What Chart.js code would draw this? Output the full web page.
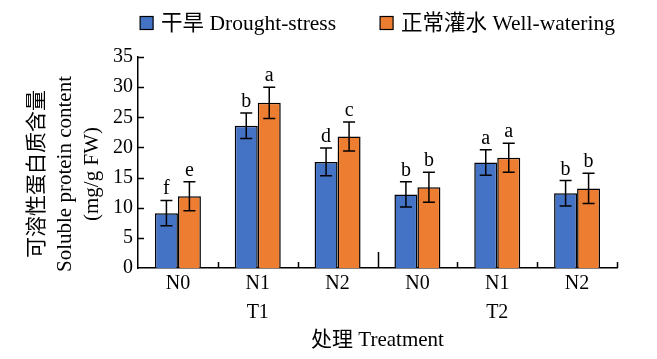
<!DOCTYPE html>
<html><head><meta charset="utf-8">
<script src="https://cdn.jsdelivr.net/npm/chart.js@4/dist/chart.umd.min.js"></script>
<style>html,body{margin:0;padding:0;background:#fff}#wrap{width:657px;height:359px}</style>
</head><body><div id="wrap"><canvas id="c" width="657" height="359"></canvas></div>
<script>
// ---- data ----
const categories = [['N0',''],['N1','T1'],['N2',''],['N0',''],['N1','T2'],['N2','']];
const seriesNames = ['干旱 Drought-stress','正常灌水 Well-watering'];
const droughtValues = [9.1, 23.6, 17.6, 12.2, 17.5, 12.4];
const droughtErrors = [2.1, 2.1, 2.3, 2.1, 2.1, 2.1];
const droughtLetters = ['f','b','d','b','a','b'];
const wellValues = [11.9, 27.4, 21.8, 13.4, 18.3, 13.2];
const wellErrors = [2.4, 2.6, 2.4, 2.5, 2.4, 2.5];
const wellLetters = ['e','a','c','b','a','b'];
const yTickValues = [0, 5, 10, 15, 20, 25, 30, 35];
const yTitleLines = ['可溶性蛋白质含量','Soluble protein content','(mg/g FW)'];
const xTitle = '处理 Treatment';

const FONT = "'Liberation Serif','Times New Roman','Noto Sans CJK SC',serif";
const errorSets = [droughtErrors, wellErrors];
const letterSets = [droughtLetters, wellLetters];

const decor = {
  id: 'decor',
  afterDatasetsDraw(chart) {
    const ctx = chart.ctx, ys = chart.scales.y;
    chart.data.datasets.forEach((ds, di) => {
      const meta = chart.getDatasetMeta(di);
      meta.data.forEach((bar, i) => {
        const v = ds.data[i], e = errorSets[di][i];
        const yt = ys.getPixelForValue(v + e), yb = ys.getPixelForValue(v - e);
        ctx.save();
        ctx.strokeStyle = '#000'; ctx.lineWidth = 1.5;
        ctx.beginPath();
        ctx.moveTo(bar.x, yt); ctx.lineTo(bar.x, yb);
        ctx.moveTo(bar.x - 6, yt); ctx.lineTo(bar.x + 6, yt);
        ctx.moveTo(bar.x - 6, yb); ctx.lineTo(bar.x + 6, yb);
        ctx.stroke();
        ctx.fillStyle = '#000';
        ctx.font = '20px ' + FONT;
        ctx.textAlign = 'center'; ctx.textBaseline = 'alphabetic';
        ctx.fillText(letterSets[di][i], bar.x, yt - 6);
        ctx.restore();
      });
    });
  },
  afterDraw(chart) {
    const ctx = chart.ctx, xs = chart.scales.x, ys = chart.scales.y, ca = chart.chartArea;
    ctx.save();
    ctx.strokeStyle = '#000'; ctx.lineWidth = 1.5;
    ctx.beginPath();
    // y ticks (inward)
    yTickValues.forEach(v => {
      if (v === 0) return;
      const py = Math.round(ys.getPixelForValue(v)) + 0.5;
      ctx.moveTo(ca.left, py); ctx.lineTo(ca.left + 6, py);
    });
    // x boundary ticks (inward)
    const n = categories.length;
    const catW = xs.getPixelForTick(1) - xs.getPixelForTick(0);
    for (let i = 0; i < n; i++) {
      const px = Math.round(xs.getPixelForTick(i) + catW / 2) + 0.5;
      const h = (i === 2) ? 16 : 6;
      ctx.moveTo(px, ca.bottom); ctx.lineTo(px, ca.bottom - h);
    }
    ctx.stroke();

    // legend
    ctx.font = '21.5px ' + FONT;
    ctx.textBaseline = 'middle'; ctx.textAlign = 'left';
    const box = 13, gapText = 8, gapItem = 44;
    const widths = seriesNames.map(t => box + gapText + ctx.measureText(t).width);
    const total = widths[0] + gapItem + widths[1];
    let lx = (ca.left + ca.right) / 2 - total / 2;
    const ly = 23;
    chart.data.datasets.forEach((ds, i) => {
      ctx.fillStyle = ds.backgroundColor;
      ctx.fillRect(lx, ly - box / 2, box, box);
      ctx.lineWidth = 1.2; ctx.strokeStyle = '#000';
      ctx.strokeRect(lx, ly - box / 2, box, box);
      ctx.fillStyle = '#000';
      ctx.fillText(seriesNames[i], lx + box + gapText, ly + 1);
      lx += widths[i] + gapItem;
    });

    // y title
    const xCenters = [37, 65, 92];
    ctx.font = '21px ' + FONT;
    ctx.textAlign = 'center'; ctx.textBaseline = 'middle';
    yTitleLines.forEach((t, i) => {
      ctx.save();
      ctx.translate(xCenters[i], 174);
      ctx.rotate(-Math.PI / 2);
      ctx.fillStyle = '#000';
      ctx.fillText(t, 0, 0);
      ctx.restore();
    });
    ctx.restore();
  }
};

new Chart(document.getElementById('c'), {
  type: 'bar',
  data: {
    labels: categories,
    datasets: [
      { label: seriesNames[0], data: droughtValues, backgroundColor: '#4472C4', borderColor: '#000', borderWidth: 1.5 },
      { label: seriesNames[1], data: wellValues, backgroundColor: '#ED7D31', borderColor: '#000', borderWidth: 1.5 }
    ]
  },
  options: {
    responsive: false,
    animation: false,
    devicePixelRatio: 1,
    layout: { padding: { top: 57, right: 40, bottom: 0, left: 0 } },
    plugins: { legend: { display: false }, tooltip: { enabled: false } },
    datasets: { bar: { categoryPercentage: 0.576, barPercentage: 1.0 } },
    scales: {
      x: {
        grid: { display: false, drawTicks: false, tickLength: 0 },
        border: { display: true, color: '#000', width: 1.5 },
        ticks: { color: '#000', font: { family: FONT, size: 20, lineHeight: 1.45 }, padding: 1, maxRotation: 0, autoSkip: false },
        title: { display: true, text: xTitle, color: '#000', font: { family: FONT, size: 21, lineHeight: 1.2 }, padding: { top: 0, bottom: 6 } },
        afterFit(s) { s.height = 91; }
      },
      y: {
        min: 0, max: 35,
        afterBuildTicks(s) { s.ticks = yTickValues.map(v => ({ value: v })); },
        grid: { display: false, drawTicks: false, tickLength: 0 },
        border: { display: true, color: '#000', width: 1.5 },
        ticks: { color: '#000', font: { family: FONT, size: 20 }, padding: 5 },
        afterFit(s) { s.width = 138; }
      }
    }
  },
  plugins: [decor]
});
</script>
</body></html>
